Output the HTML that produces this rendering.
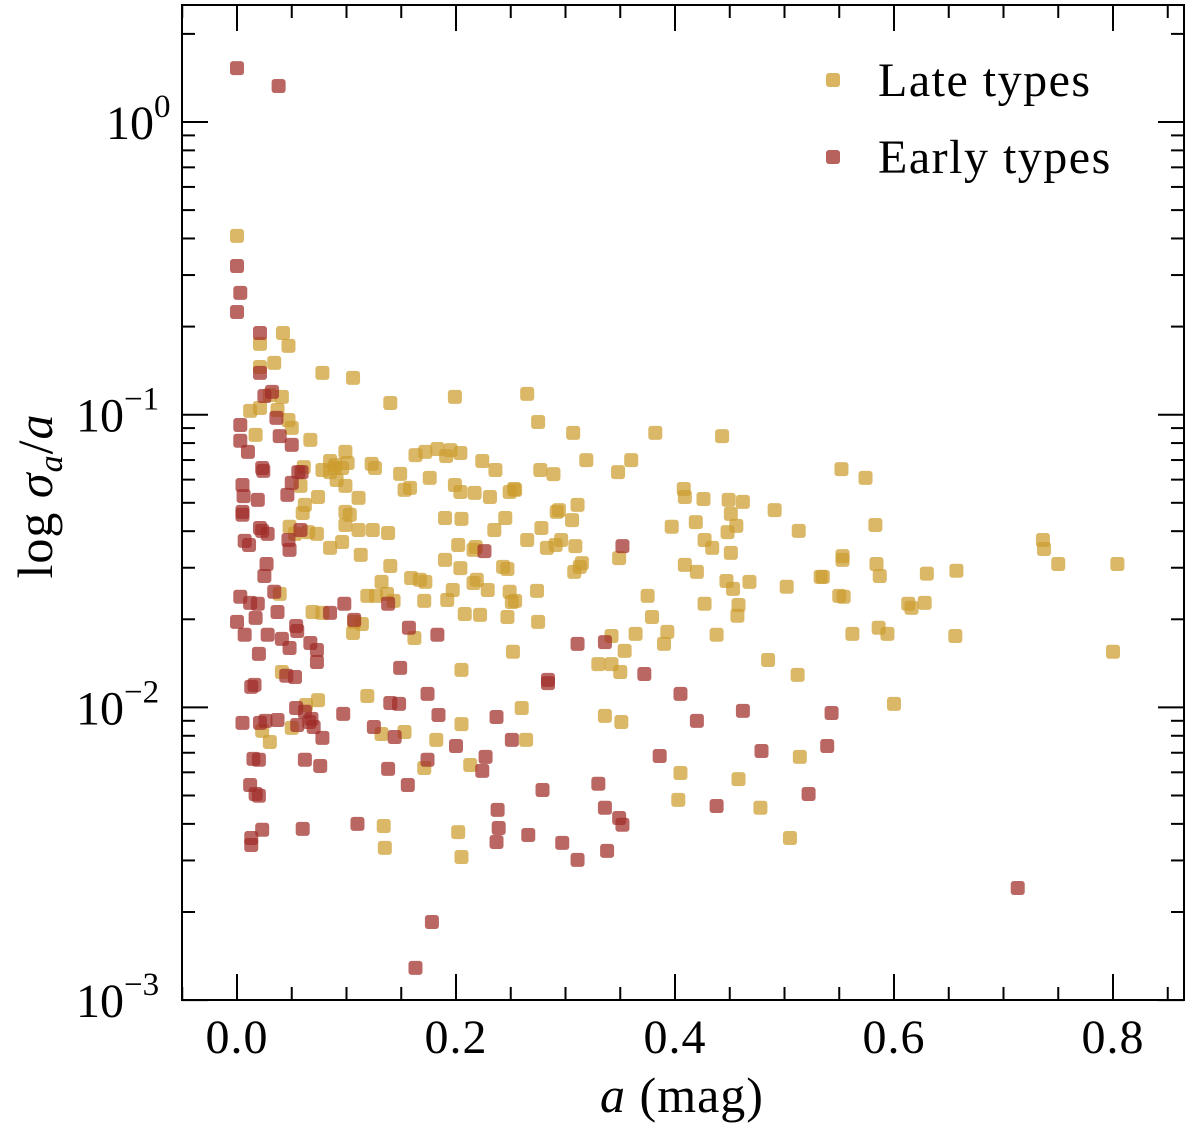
<!DOCTYPE html>
<html><head><meta charset="utf-8"><style>
html,body{margin:0;padding:0;background:#fff;}
svg text{font-family:"Liberation Serif",serif;fill:#000;}
</style></head><body>
<svg id="chart" width="1200" height="1132" viewBox="0 0 1200 1132" xmlns="http://www.w3.org/2000/svg">
<g id="marks"></g>
<rect x="182" y="5" width="1002" height="995" fill="none" stroke="#000" stroke-width="2"/>
<g id="ticks"></g>
<text x="682" y="1112" font-size="50" text-anchor="middle" letter-spacing="1"><tspan font-style="italic">a</tspan> (mag)</text>
<text transform="translate(52,496) rotate(-90)" font-size="50" text-anchor="middle" letter-spacing="1">log <tspan font-style="italic">σ</tspan><tspan font-style="italic" font-size="34" dy="10">a</tspan><tspan dy="-10">/</tspan><tspan font-style="italic">a</tspan></text>
<g>
<rect x="826" y="73" width="14" height="14" rx="3" fill="rgb(204,156,46)" fill-opacity="0.75"/>
<text x="878" y="96" font-size="48" letter-spacing="1.5">Late types</text>
<rect x="826" y="150" width="14" height="14" rx="3" fill="rgb(160,45,40)" fill-opacity="0.75"/>
<text x="878" y="173" font-size="48" letter-spacing="1.5">Early types</text>
</g>
</svg>
<script>
const lateA=[0,0.021,0.042,0.034,0.047,0.012,0.021,0.030,0.037,0.021,0.017,0.041,0.047,0.050,0.078,0.106,0.140,0.199,0.265,0.275,0.307,0.382,0.443,0.061,0.067,0.085,0.078,0.085,0.096,0.099,0.089,0.090,0.101,0.091,0.074,0.058,0.062,0.060,0.048,0.065,0.053,0.073,0.099,0.111,0.099,0.099,0.103,0.096,0.085,0.111,0.113,0.124,0.138,0.123,0.126,0.149,0.153,0.158,0.163,0.172,0.176,0.183,0.191,0.195,0.204,0.190,0.199,0.204,0.205,0.217,0.224,0.231,0.236,0.249,0.254,0.218,0.202,0.204,0.197,0.216,0.219,0.229,0.216,0.208,0.205,0.222,0.235,0.245,0.243,0.253,0.247,0.249,0.251,0.247,0.254,0.252,0.260,0.278,0.274,0.275,0.283,0.277,0.289,0.292,0.294,0.291,0.296,0.306,0.309,0.311,0.313,0.315,0.319,0.348,0.360,0.349,0.342,0.342,0.350,0.354,0.364,0.375,0.379,0.390,0.393,0.397,0.408,0.409,0.409,0.419,0.420,0.427,0.427,0.438,0.434,0.426,0.449,0.451,0.456,0.462,0.451,0.453,0.458,0.447,0.457,0.468,0.448,0.485,0.491,0.502,0.513,0.533,0.552,0.553,0.553,0.554,0.550,0.562,0.574,0.583,0.584,0.587,0.586,0.594,0.613,0.616,0.630,0.628,0.657,0.656,0.600,0.512,0.514,0.478,0.505,0.405,0.403,0.458,0.351,0.336,0.330,0.308,0.265,0.182,0.134,0.135,0.205,0.202,0.213,0.264,0.205,0.171,0.153,0.132,0.119,0.074,0.063,0.050,0.030,0.023,0.041,0.039,0.069,0.078,0.107,0.106,0.137,0.143,0.127,0.159,0.162,0.171,0.172,0.167,0.192,0.190,0.140,0.132,0.119,0.114,0.736,0.737,0.750,0.804,0.800,0.535];
const lateLog=[-0.389,-0.758,-0.721,-0.823,-0.765,-0.987,-0.837,-0.933,-0.984,-0.977,-1.069,-0.939,-1.018,-1.045,-0.857,-0.874,-0.960,-0.939,-0.929,-1.025,-1.062,-1.062,-1.073,-1.179,-1.086,-1.158,-1.189,-1.196,-1.182,-1.127,-1.182,-1.172,-1.165,-1.223,-1.281,-1.243,-1.308,-1.336,-1.383,-1.401,-1.407,-1.407,-1.243,-1.284,-1.332,-1.377,-1.342,-1.435,-1.455,-1.394,-1.479,-1.394,-1.404,-1.168,-1.182,-1.202,-1.257,-1.250,-1.138,-1.127,-1.216,-1.117,-1.141,-1.121,-1.131,-1.353,-1.240,-1.264,-1.356,-1.267,-1.158,-1.281,-1.189,-1.264,-1.257,-1.452,-1.445,-1.524,-1.599,-1.462,-1.564,-1.599,-1.575,-1.681,-1.872,-1.684,-1.394,-1.353,-1.520,-1.254,-1.527,-1.605,-1.640,-1.691,-1.636,-1.810,-2.002,-1.387,-1.602,-1.708,-1.455,-1.189,-1.203,-1.332,-1.326,-1.445,-1.428,-1.360,-1.449,-1.308,-1.520,-1.507,-1.155,-1.196,-1.155,-1.490,-1.756,-1.852,-1.879,-1.807,-1.749,-1.619,-1.691,-1.783,-1.742,-1.383,-1.254,-1.281,-1.513,-1.367,-1.537,-1.646,-1.428,-1.752,-1.455,-1.288,-1.291,-1.339,-1.380,-1.298,-1.472,-1.595,-1.650,-1.568,-1.687,-1.571,-1.401,-1.838,-1.326,-1.588,-1.397,-1.554,-1.186,-1.496,-1.483,-1.622,-1.619,-1.749,-1.216,-1.377,-1.510,-1.551,-1.728,-1.749,-1.646,-1.660,-1.543,-1.643,-1.533,-1.756,-1.988,-1.889,-2.169,-2.343,-2.446,-2.224,-2.316,-2.245,-2.050,-2.029,-1.852,-1.537,-1.428,-2.111,-2.405,-2.480,-2.511,-2.426,-2.197,-2.111,-2.057,-2.207,-2.084,-2.091,-1.961,-1.975,-1.992,-2.070,-2.118,-2.080,-1.879,-1.612,-1.674,-1.677,-1.708,-1.746,-1.612,-1.636,-1.619,-1.558,-1.763,-1.636,-1.571,-1.564,-1.633,-1.496,-1.517,-1.571,-1.619,-1.715,-1.428,-1.459,-1.510,-1.510,-1.810,-1.554];
const earlyA=[0,0.038,0,0.003,0,0.021,0.021,0.003,0.003,0.010,0.039,0.023,0.024,0.050,0.056,0.005,0.006,0.050,0.046,0.059,0.019,0.005,0.005,0.007,0.011,0.021,0.023,0.028,0.058,0.048,0.047,0.027,0.025,0.034,0.003,0.012,0.019,0,0.007,0.017,0.037,0.054,0.055,0.067,0.028,0.020,0.041,0.048,0.073,0.045,0.013,0.016,0.053,0.073,0.098,0.085,0.107,0.138,0.157,0.183,0.149,0.174,0.140,0.148,0.125,0.097,0.054,0.062,0.066,0.068,0.078,0.070,0.055,0.037,0.026,0.021,0.005,0.015,0.020,0.012,0.020,0.017,0.023,0.013,0.013,0.060,0.076,0.062,0.110,0.138,0.144,0.156,0.174,0.184,0.200,0.224,0.227,0.237,0.251,0.238,0.239,0.237,0.266,0.279,0.297,0.311,0.330,0.336,0.338,0.349,0.352,0.311,0.284,0.284,0.226,0.352,0.336,0.372,0.386,0.405,0.420,0.462,0.479,0.438,0.522,0.539,0.543,0.713,0.178,0.163,0.032,0.036,0.025];
const earlyLog=[0.184,0.123,-0.492,-0.584,-0.649,-0.721,-0.857,-1.035,-1.089,-1.127,-1.073,-1.182,-1.192,-1.103,-1.196,-1.240,-1.278,-1.233,-1.274,-1.196,-1.291,-1.332,-1.342,-1.431,-1.445,-1.387,-1.397,-1.407,-1.394,-1.462,-1.428,-1.510,-1.551,-1.605,-1.622,-1.643,-1.646,-1.708,-1.752,-1.694,-1.674,-1.722,-1.739,-1.780,-1.752,-1.817,-1.766,-1.797,-1.804,-1.892,-1.930,-1.923,-1.896,-1.845,-1.646,-1.677,-1.701,-1.646,-1.728,-1.752,-1.865,-1.954,-1.985,-1.988,-2.067,-2.022,-2.002,-2.015,-2.050,-2.039,-2.104,-2.067,-2.060,-2.043,-2.046,-2.053,-2.053,-2.176,-2.179,-2.265,-2.302,-2.296,-2.418,-2.446,-2.470,-2.415,-2.200,-2.179,-2.398,-2.210,-2.101,-2.265,-2.179,-2.026,-2.132,-2.217,-2.169,-2.033,-2.111,-2.350,-2.412,-2.460,-2.436,-2.282,-2.463,-2.521,-2.261,-2.343,-2.490,-2.378,-2.401,-1.783,-1.906,-1.917,-1.466,-1.449,-1.777,-1.886,-2.166,-1.954,-2.046,-2.012,-2.149,-2.337,-2.296,-2.132,-2.019,-2.617,-2.733,-2.890,-0.922,-1.011,-0.936];
const xTicks=[0,0.2,0.4,0.6,0.8];
const xTickLabels=["0.0","0.2","0.4","0.6","0.8"];
const yDecades=[0,-1,-2,-3];
const yTickLabels=["0","−1","−2","−3"];

const NS="http://www.w3.org/2000/svg";
const X0=237,XS=1095,Y0=122,YS=292.7,L=182,R=1184,T=5,B=1000;
function xScale(a){return X0+a*XS;}
function yScale(lg){return Y0-lg*YS;}
const marks=document.getElementById('marks');
const ticks=document.getElementById('ticks');
function drawSeries(A,Lg,color,name){
  for(let i=0;i<A.length;i++){
    const r=document.createElementNS(NS,'rect');
    
    
    r.setAttribute('x',xScale(A[i])-7);r.setAttribute('y',yScale(Lg[i])-7);
    r.setAttribute('width',14);r.setAttribute('height',14);r.setAttribute('rx',3);
    r.setAttribute('fill',color);r.setAttribute('fill-opacity','0.72');
    marks.appendChild(r);
  }
}
drawSeries(lateA,lateLog,'rgb(204,156,46)','late-type-point');
drawSeries(earlyA,earlyLog,'rgb(160,45,40)','early-type-point');
function line(x1,y1,x2,y2,name){
  const l=document.createElementNS(NS,'line');
  
  
  l.setAttribute('x1',x1);l.setAttribute('y1',y1);l.setAttribute('x2',x2);l.setAttribute('y2',y2);
  l.setAttribute('stroke','#000');l.setAttribute('stroke-width','2');
  ticks.appendChild(l);
}
function text(x,y,s,anchor,name,size){
  const t=document.createElementNS(NS,'text');
  
  
  t.setAttribute('x',x);t.setAttribute('y',y);t.setAttribute('text-anchor',anchor);
  t.setAttribute('font-size',size);
  t.textContent=s;ticks.appendChild(t);return t;
}
for(let v=-0.05;v<=0.86;v+=0.05){
  const x=xScale(v);if(x<L||x>R)continue;
  const major=Math.abs(v*5-Math.round(v*5))<1e-6;
  const len=major?26:13;
  line(x,B,x,B-len,'x-tick');line(x,T,x,T+len,'x-tick-top');
}
xTicks.forEach((v,i)=>{const t=text(xScale(v),1053,xTickLabels[i],'middle','x-tick-label',48);t.setAttribute('letter-spacing','1');});
yDecades.forEach((d,i)=>{
  const y=yScale(d);
  line(L,y,L+26,y,'y-tick');line(R,y,R-26,y,'y-tick-right');
  const t=text(106,y+17,'10','start','y-tick-label',48);
  const sp=document.createElementNS(NS,'tspan');
  sp.setAttribute('dy','-22');sp.setAttribute('font-size','33');
  sp.textContent=yTickLabels[i];
  t.appendChild(sp);
  if(yTickLabels[i]!=="0"){t.setAttribute('x',76);}
});
for(let d=-3;d<=0;d++){for(let m=2;m<=9;m++){
  const y=yScale(d+Math.log10(m));if(y<T)continue;
  line(L,y,L+13,y,'y-minor-tick');line(R,y,R-13,y,'y-minor-tick-right');
}}
</script>
</body></html>
